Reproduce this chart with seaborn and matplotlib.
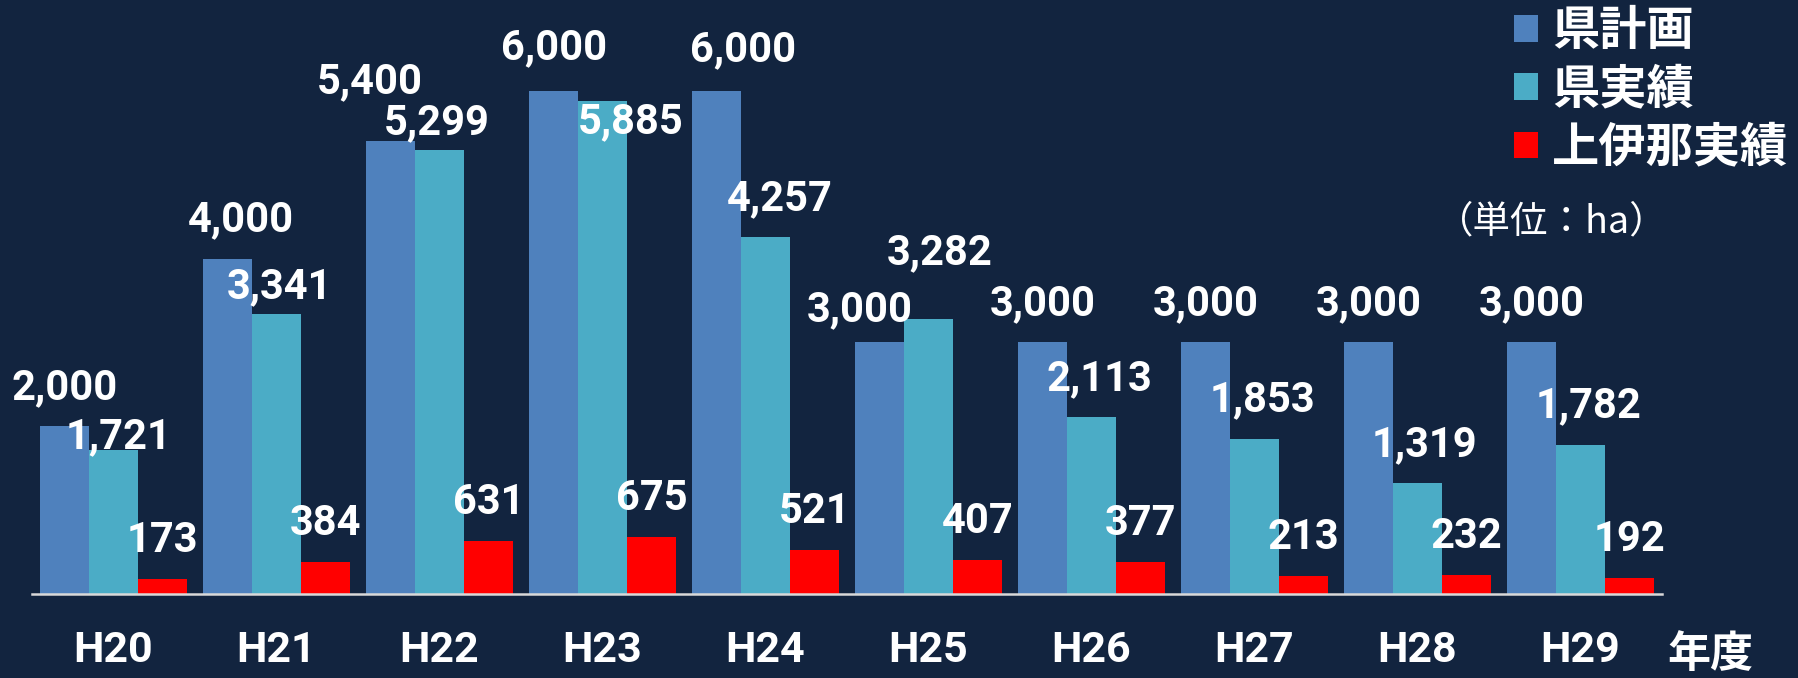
import matplotlib
matplotlib.use("Agg")
import matplotlib.pyplot as plt
import seaborn as sns
import pandas as pd

# data (ha)
years = ["H20", "H21", "H22", "H23", "H24", "H25", "H26", "H27", "H28", "H29"]
series_names = ["県計画", "県実績", "上伊那実績"]
pref_plan = [2000, 4000, 5400, 6000, 6000, 3000, 3000, 3000, 3000, 3000]
pref_actual = [1721, 3341, 5299, 5885, 4257, 3282, 2113, 1853, 1319, 1782]
kamiina_actual = [173, 384, 631, 675, 521, 407, 377, 213, 232, 192]

colors = ["#4F81BD", "#4BACC6", "#FF0000"]
bg = "#12243F"

# hand nudges of single value labels, in pixels: (series, year) -> (dx, dy)
nudges = {
    (0, 1): (13, 0), (0, 2): (-21, 21), (0, 3): (0, 5), (0, 4): (26, 3), (0, 5): (-20, -6),
    (1, 0): (5, -26), (1, 1): (3, -11), (1, 2): (-3, -11), (1, 3): (28, -60),
    (1, 4): (14, 0), (1, 5): (11, 28), (1, 6): (8, 0), (1, 7): (8, 0), (1, 8): (7, 0), (1, 9): (8, 0),
}

df = pd.DataFrame({
    "year": years * 3,
    "series": [s for s in series_names for _ in years],
    "value": pref_plan + pref_actual + kamiina_actual,
})

fig = plt.figure(figsize=(17.98, 6.78), dpi=100, facecolor=bg)
ax = fig.add_axes([32 / 1798, 84 / 678, 1630 / 1798, 594 / 678])
ax.set_facecolor(bg)

sns.barplot(data=df, x="year", y="value", hue="series", palette=colors,
            width=0.9, saturation=1, linewidth=0, errorbar=None, ax=ax)

ax.set_xlim(-0.5, 9.5)
ax.set_ylim(0, 7085)
ax.set_yticks([])
ax.set_xlabel("")
ax.set_ylabel("")
for side in ["top", "right", "left"]:
    ax.spines[side].set_visible(False)
ax.spines["bottom"].set_color("#D9D9D9")
ax.spines["bottom"].set_linewidth(1.8)

num_font = dict(family=["Roboto", "Noto Sans CJK JP"], weight="bold", size=30)
cjk_font = ["Noto Sans CJK JP", "DejaVu Sans"]

ax.tick_params(axis="x", length=0, pad=26, colors="white")
for lbl in ax.get_xticklabels():
    lbl.set_fontfamily(num_font["family"])
    lbl.set_fontweight("bold")
    lbl.set_fontsize(31)

# value labels
for si, (cont, vals) in enumerate(zip(ax.containers, [pref_plan, pref_actual, kamiina_actual])):
    for yi, (bar, v) in enumerate(zip(cont, vals)):
        dx, dy = nudges.get((si, yi), (0, 0))
        ax.annotate(f"{v:,}", (bar.get_x() + bar.get_width() / 2, bar.get_height()),
                    xytext=(dx, 27 + dy), textcoords="offset pixels",
                    ha="center", va="baseline", color="white", **num_font)

# legend
leg = ax.get_legend()
handles = leg.legend_handles
labels = [t.get_text() for t in leg.texts]
leg.remove()
fig.legend(handles, labels, loc="upper left", bbox_to_anchor=(1514 / 1798, 1 - 7 / 678),
           frameon=False, borderpad=0, borderaxespad=0, handlelength=0.5, handleheight=0.5,
           handletextpad=0.3, labelspacing=0.22, labelcolor="white",
           prop=dict(family=cjk_font, weight="bold", size=34))

fig.text(1552 / 1798, 1 - 222 / 678, "（単位：ha）", ha="center", va="center",
         color="white", fontsize=27, family=cjk_font)
fig.text(1710 / 1798, 2 / 678, "年度", ha="center", va="bottom",
         color="white", fontsize=31, fontweight="bold", family=cjk_font)

fig.savefig("out.png", dpi=100, facecolor=bg)
